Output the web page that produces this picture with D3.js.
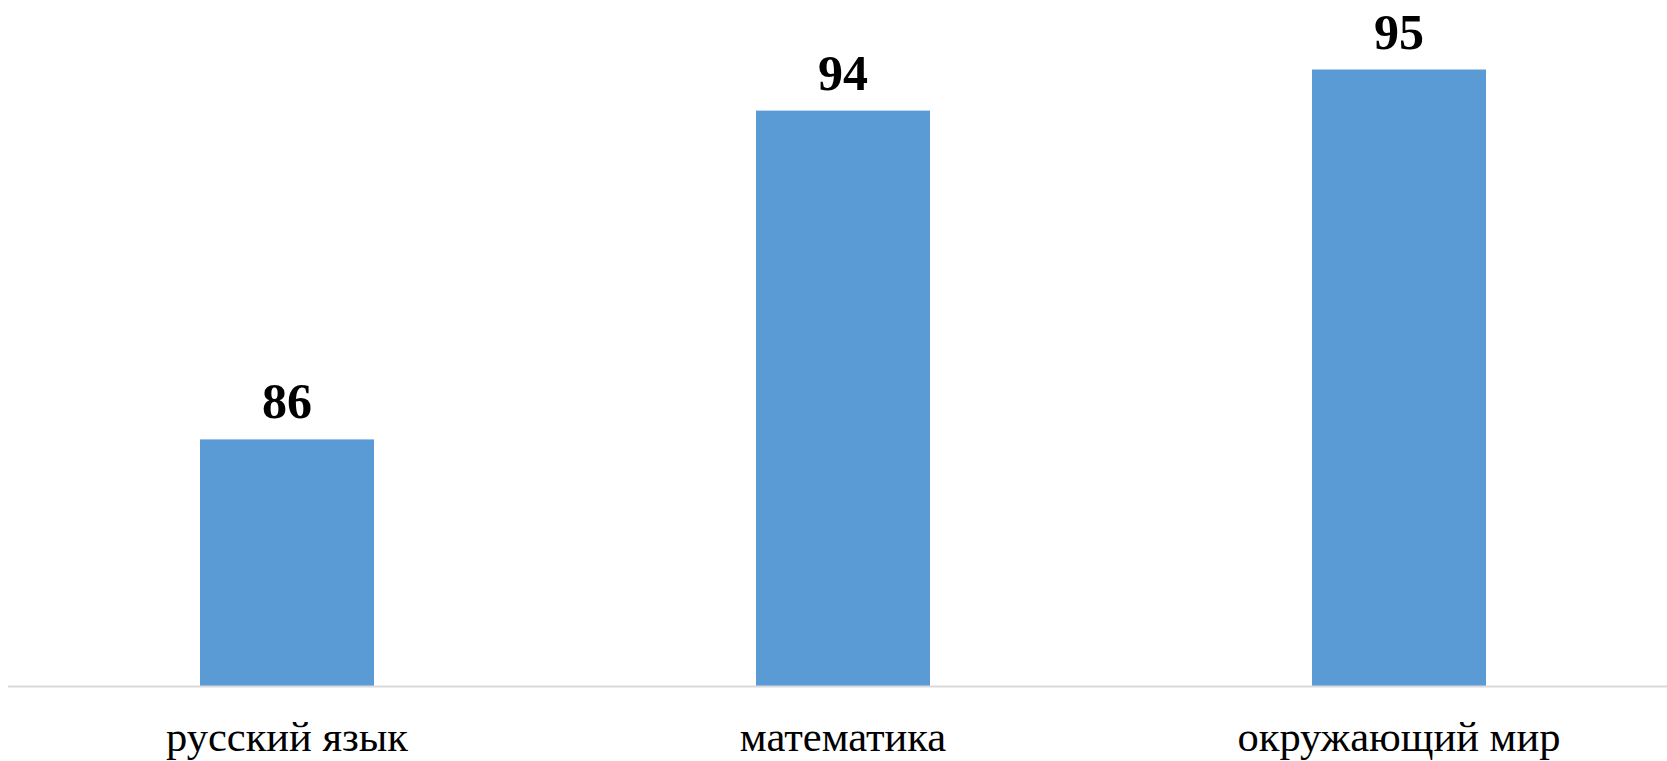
<!DOCTYPE html>
<html>
<head>
<meta charset="utf-8">
<script src="https://cdn.jsdelivr.net/npm/d3@7"></script>
<style>
    html, body { margin: 0; padding: 0; background: #fff; }
    svg { display: block; }
</style>
</head>
<body>
<svg id="chart"></svg>
<script>
var subjects = ["русский язык", "математика", "окружающий мир"];
var scores = [86, 94, 95];
var yDomain = [80, 96];

var W = 1667, H = 761;
var baseY = 686;

var svg = d3.select("#chart").attr("width", W).attr("height", H);

// band scale: bars are ~31% of each step
var scX = d3.scaleBand()
    .domain(subjects)
    .range([9, 1677])
    .paddingInner(0.687)
    .paddingOuter(0.3435);

var scY = d3.scaleLinear()
    .domain(yDomain)
    .range([baseY, baseY - 16 * 41.1]);

var data = subjects.map((s, i) => ({ name: s, v: scores[i] }));

svg.append("g")
    .selectAll("rect")
    .data(data).enter().append("rect")
    .attr("x", d => scX(d.name))
    .attr("width", scX.bandwidth())
    .attr("y", d => scY(d.v))
    .attr("height", d => baseY - scY(d.v))
    .attr("fill", "#5b9bd5");

// category axis, only the line and labels
var ax = svg.append("g")
    .attr("transform", "translate(0," + baseY + ")")
    .call(d3.axisBottom(scX).tickSize(0).tickPadding(0));
ax.select(".domain").remove();
ax.append("line")
    .attr("x1", 8).attr("x2", W)
    .attr("y1", 0.5).attr("y2", 0.5)
    .attr("stroke", "#d9d9d9").attr("stroke-width", 2);
ax.selectAll(".tick text")
    .attr("y", 65).attr("dy", null)
    .attr("fill", "#000")
    .style("font-family", "'Liberation Serif', 'Times New Roman', serif")
    .style("font-size", "42.5px");

svg.append("g")
    .selectAll("text")
    .data(data).enter().append("text")
    .attr("x", d => scX(d.name) + scX.bandwidth() / 2)
    .attr("y", d => scY(d.v) - 21)
    .attr("text-anchor", "middle")
    .style("font-family", "'Liberation Serif', 'Times New Roman', serif")
    .style("font-weight", "bold")
    .style("font-size", "50px")
    .text(d => d.v);
</script>
</body>
</html>
